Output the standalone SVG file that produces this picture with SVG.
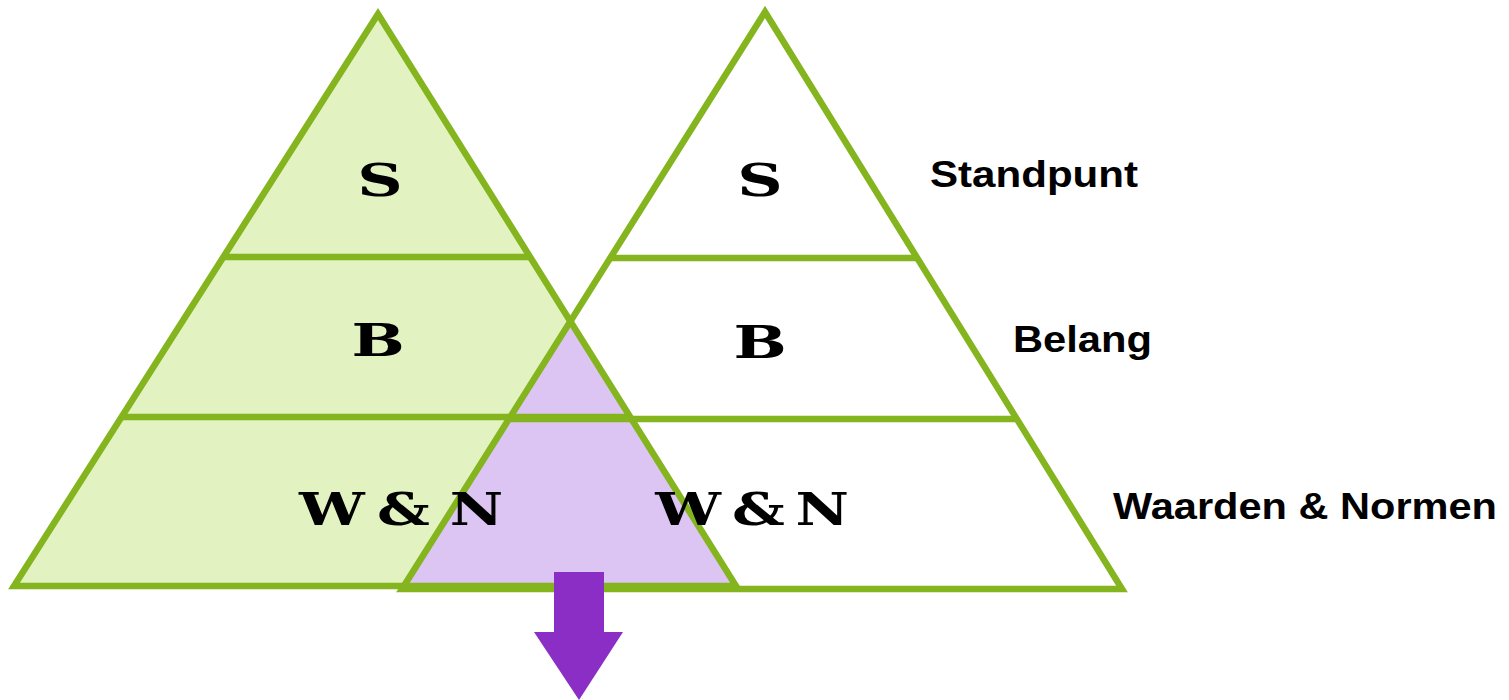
<svg xmlns="http://www.w3.org/2000/svg" width="1509" height="700" viewBox="0 0 1509 700">
<style>
.edge{fill:none;stroke:#84B41E;stroke-width:6.5;stroke-linejoin:miter}
.sep{stroke:#84B41E;stroke-width:6.5}
.let{font-family:"DejaVu Serif",serif;font-weight:bold;font-size:45px;fill:#000;text-anchor:middle}
.wn{font-family:"DejaVu Serif",serif;font-weight:bold;font-size:45px;fill:#000}
.lab{font-family:"Liberation Sans",Arial,sans-serif;font-weight:bold;font-size:36px;fill:#000}
</style>
<rect width="1509" height="700" fill="#fff"/>
<g id="left-pyramid">
<polygon points="378,14 14,586 736,586" fill="#E2F2C1"/>
</g>
<g id="overlap">
<polygon points="571,322 403,588 736,588" fill="#DCC4F3"/>
</g>
<g id="connectors">
<polygon class="edge" points="378,14 14,586 736,586"/>
<polygon class="edge" points="765,12 402,589 1122,589"/>
<line class="sep" x1="223" y1="257" x2="530" y2="257"/>
<line class="sep" x1="610" y1="258" x2="917" y2="258"/>
<line class="sep" x1="122" y1="417" x2="630" y2="417"/>
<line class="sep" x1="509" y1="419" x2="1017" y2="419"/>
</g>
<g id="arrow">
<polygon points="554,572 604,572 604,632 623,632 579,700 534,632 554,632" fill="#8B2EC6"/>
</g>
<g id="left-labels">
<text class="let" transform="translate(380,196) scale(1.4,1)">S</text>
<text class="let" transform="translate(378,356) scale(1.4,1)">B</text>
<text class="wn" transform="translate(0,525) scale(1.3,1)"><tspan x="230">W</tspan> <tspan x="290">&amp;</tspan> <tspan x="346">N</tspan></text>
</g>
<g id="right-labels">
<text class="let" transform="translate(760,196) scale(1.4,1)">S</text>
<text class="let" transform="translate(760,358) scale(1.4,1)">B</text>
<text class="wn" transform="translate(0,525) scale(1.3,1)"><tspan x="504">W</tspan> <tspan x="563">&amp;</tspan> <tspan x="612">N</tspan></text>
</g>
<g id="legend">
<text class="lab" x="930" y="187" textLength="208" lengthAdjust="spacingAndGlyphs">Standpunt</text>
<text class="lab" x="1013" y="352" textLength="139" lengthAdjust="spacingAndGlyphs">Belang</text>
<text class="lab" x="1113" y="519" textLength="384" lengthAdjust="spacingAndGlyphs">Waarden &amp; Normen</text>
</g>
</svg>
